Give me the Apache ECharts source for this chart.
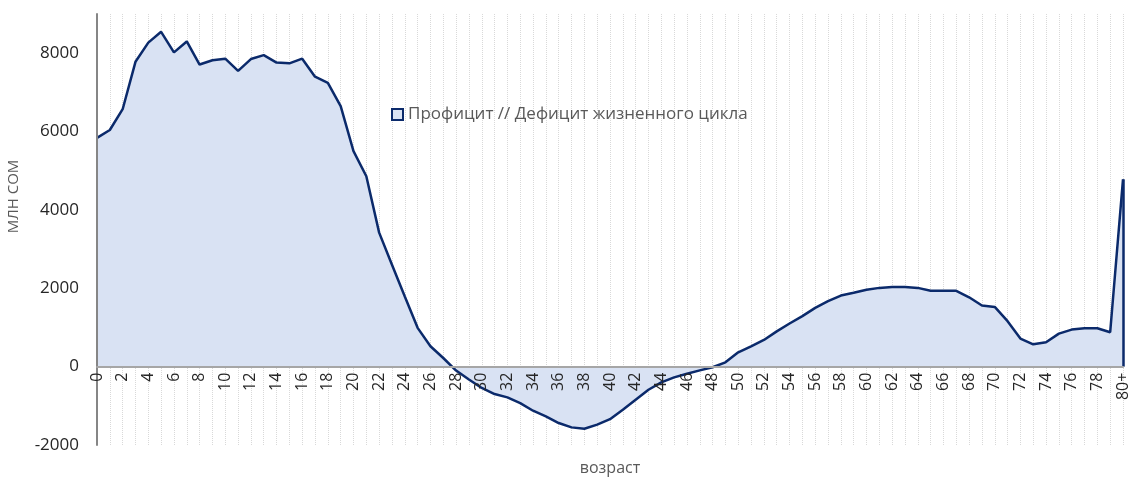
<!DOCTYPE html>
<html>
<head>
<meta charset="utf-8">
<script src="https://cdn.jsdelivr.net/npm/echarts@6/dist/echarts.min.js"></script>
<style>
  html, body { margin: 0; padding: 0; background: #fff; }
  #chart { width: 1132px; height: 479px; }
</style>
</head>
<body>
<div id="chart"></div>
<script>
// возраст 0..79, 80+
var ages = [];
for (var a = 0; a < 80; a++) ages.push(String(a));
ages.push('80+');

var balance = [
  5840, 6040, 6570, 7780, 8270, 8545, 8020, 8300, 7710, 7820,
  7860, 7550, 7850, 7950, 7760, 7740, 7860, 7400, 7240, 6650,
  5500, 4860, 3420, 2600, 1790, 990, 520, 220, -100, -330,
  -545, -700, -785, -930, -1125, -1270, -1440, -1550, -1585, -1480,
  -1340, -1100, -845, -590, -400, -275, -180, -95, -15, 110,
  365, 520, 680, 900, 1100, 1290, 1500, 1670, 1815, 1885,
  1960, 2010, 2035, 2035, 2010, 1935, 1935, 1935, 1770, 1560,
  1525, 1160, 716, 570, 622, 843, 946, 980, 980, 878,
  4780
];

var yMin = -2000, yMax = 9000;
var seriesName = 'Профицит // Дефицит жизненного цикла';

var gridTop = 14, gridBottom = 34, chartH = 479;
var plotH = chartH - gridTop - gridBottom;
// move the category axis up to the zero line
var zeroOffset = -plotH * (0 - yMin) / (yMax - yMin);

var chart = echarts.init(document.getElementById('chart'));
chart.setOption({
  animation: false,
  textStyle: { fontFamily: 'Open Sans' },
  grid: { left: 97, right: 9, top: gridTop, bottom: gridBottom, containLabel: false, outerBoundsMode: 'none' },
  legend: {
    left: 386,
    top: 101,
    icon: 'rect',
    itemWidth: 11,
    itemHeight: 11,
    itemGap: 4,
    itemStyle: { color: '#d9e2f3', borderColor: '#0b2a6b', borderWidth: 2 },
    textStyle: { color: '#595959', fontSize: 17, fontFamily: 'Open Sans' },
    data: [seriesName]
  },
  xAxis: [{
    // gridlines, behind the area
    type: 'category',
    data: ages,
    boundaryGap: false,
    z: 0,
    axisLine: { show: false },
    axisTick: { show: false },
    axisLabel: { show: false },
    splitLine: { show: true, interval: 0, lineStyle: { color: '#d9d9d9', type: 'dotted' } }
  }, {
    // zero line and labels, over the area
    type: 'category',
    data: ages,
    boundaryGap: false,
    position: 'bottom',
    offset: zeroOffset,
    z: 10,
    name: 'возраст',
    nameLocation: 'middle',
    nameGap: 94,
    nameTextStyle: { color: '#595959', fontSize: 16 },
    axisLine: { onZero: false, lineStyle: { color: '#a6a6a6', width: 2 } },
    axisTick: { show: false },
    axisLabel: { interval: 1, rotate: 90, color: '#262626', fontSize: 16, margin: 6 },
    splitLine: { show: false }
  }],
  yAxis: {
    type: 'value',
    min: yMin,
    max: yMax,
    interval: 2000,
    z: 10,
    name: 'МЛН СОМ',
    nameLocation: 'middle',
    nameGap: 76,
    nameTextStyle: { color: '#595959', fontSize: 15, padding: [0, 0, 0, 66] },
    axisLine: { show: true, onZero: false, lineStyle: { color: '#868686', width: 2 } },
    axisTick: { show: false },
    axisLabel: {
      color: '#262626', fontSize: 17, margin: 18, showMaxLabel: false,
      formatter: function (v) { return String(v); }
    },
    splitLine: { show: false }
  },
  series: [{
    name: seriesName,
    type: 'line',
    xAxisIndex: 0,
    data: balance,
    symbol: 'none',
    lineStyle: { color: '#0b2a6b', width: 2.5 },
    itemStyle: { color: '#0b2a6b' },
    areaStyle: { color: '#d9e2f3', opacity: 1 },
    markLine: {
      silent: true,
      symbol: 'none',
      label: { show: false },
      lineStyle: { color: '#0b2a6b', width: 2.5, type: 'solid' },
      data: [[
        { coord: [ages[ages.length - 1], balance[balance.length - 1]] },
        { coord: [ages[ages.length - 1], 0] }
      ]]
    }
  }]
});
</script>
</body>
</html>
